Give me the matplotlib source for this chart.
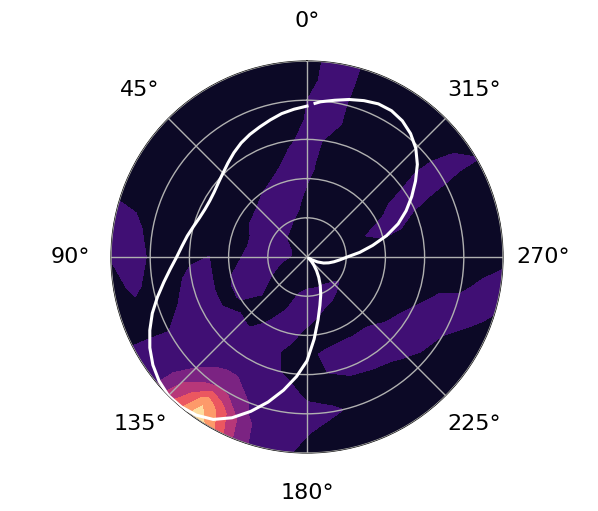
import numpy as np
import matplotlib
matplotlib.use('Agg')
import matplotlib.pyplot as plt

# contour field, one list per ring, sampled at THETA_DEG
THETA_DEG = [0, 10, 20, 30, 40, 50, 60, 70, 80, 90, 100, 110, 120, 130, 140, 145, 150,
             160, 170, 180, 190, 200, 210, 220, 230, 240, 250, 260, 270, 280, 290,
             295, 300, 305, 310, 320, 330, 340, 350]
RADII = [0.0, 0.1, 0.2, 0.3, 0.4, 0.45, 0.5, 0.6, 0.7, 0.8, 0.9, 1.0]

ring_00 = [.3] * 39
ring_10 = [.3, .3, .3, .35, .5, .75, 1.0, 1.15, 1.15, 1.15, .85, .6, .4, .3, .3, .3, .3,
           .3, .3, .3, .3, .3, .3, .3, .3, .3, .3, .3, .3, .3, .3,
           .3, .3, .3, .3, .3, .3, .3, .3]
ring_20 = [.55, .85, 1.0, 1.3, 1.5, 1.5, 1.5, 1.5, 1.5, 1.5, 1.5, 1.25, .9, .5, .3, .3, .4,
           .8, 1.15, 1.4, 1.4, 1.4, 1.4, 1.25, 1.05, .8, .6, .35, .3, .3, .3,
           .3, .3, .3, .3, .3, .3, .35, .4]
ring_30 = [.8, 1.2, 1.5, 1.5, 1.5, 1.35, 1.25, 1.05, 1.05, 1.15, 1.3, 1.5, 1.5, 1.0, .6, .6, .75,
           1.1, 1.4, 1.4, 1.05, .85, .7, .5, .4, .3, .3, .3, .35, .6, .95,
           .6, .45, .35, .3, .3, .3, .4, .6]
ring_40 = [1.1, 1.4, 1.4, 1.1, .85, .65, .6, .5, .5, .7, .9, 1.15, 1.15, .65, .6, .9, 1.1,
           1.4, 1.2, .7, .5, .45, .4, .35, .35, .3, .3, .3, .35, .85, 1.25,
           1.05, .75, .6, .45, .3, .3, .4, .6]
ring_45 = [1.25, 1.35, 1.05, .65, .45, .35, .3, .3, .3, .3, .4, .45, .55, 1.05, .9, 1.15, 1.3,
           1.35, .98, .6, .75, .85, .85, .85, .6, .45, .35, .3, .3, .7, 1.25,
           1.2, .95, .75, .55, .35, .3, .3, .7]
ring_50 = [1.3, 1.25, .7, .5, .4, .4, .4, .4, .45, 1.02, 1.1, 1.0, 1.0, 1.3, 1.25, 1.3, 1.3,
           1.2, .75, .8, 1.1, 1.3, 1.3, 1.25, .9, .65, .45, .4, .35, .6, 1.2,
           1.35, 1.25, .85, .6, .35, .3, .4, .75]
ring_60 = [1.3, .8, .5, .35, .3, .3, .3, .3, .5, .8, 1.25, 1.4, 1.4, 1.4, 1.4, 1.4, 1.4,
           1.25, .9, .75, 1.0, 1.3, 1.4, 1.4, 1.4, 1.2, .8, .5, .35, .35, .7,
           1.1, 1.35, 1.05, .7, .4, .3, .5, .9]
ring_70 = [1.05, .6, .4, .3, .3, .3, .3, .3, .35, .45, .7, 1.0, 1.3, 1.4, 1.75, 1.95, 1.95,
           1.5, 1.35, .85, .6, .6, .75, .95, 1.3, 1.4, 1.2, .75, .45, .35, .5,
           .9, 1.25, 1.2, .85, .45, .3, .7, 1.25]
ring_80 = [1.0, .55, .4, .3, .3, .3, .3, .45, .75, .9, .7, .5, 1.1, 1.5, 2.5, 2.9, 2.8,
           1.8, 1.3, 1.25, 1.15, .7, .45, .55, .75, 1.0, 1.35, .8, .4, .3, .35,
           .7, 1.2, 1.15, .85, .5, .3, .65, 1.3]
ring_90 = [.8, .45, .3, .3, .3, .3, .35, .75, 1.2, 1.4, 1.2, .55, 1.15, 1.8, 4.0, 5.7, 4.7,
           2.1, 1.5, 1.05, .5, .35, .3, .3, .3, .6, 1.2, 1.15, .6, .3, .3,
           .6, 1.05, 1.05, .6, .35, .3, .7, 1.35]
ring_100 = [.7, .4, .3, .3, .3, .3, .4, .85, 1.3, 1.05, .6, .65, 1.15, 2.0, 4.9, 6.8, 5.6,
            2.2, 1.4, .7, .4, .3, .3, .3, .3, .35, .85, 1.35, .8, .4, .35,
            .55, 1.03, .8, .5, .3, .3, .7, 1.4]

FIELD = [ring_00, ring_10, ring_20, ring_30, ring_40, ring_45, ring_50,
         ring_60, ring_70, ring_80, ring_90, ring_100]
LEVELS = [0, 1, 2, 3, 4, 5, 6, 7]

# white curve, read every 5 degrees
curve_theta = [0, 5, 10, 15, 20, 25, 30, 35, 40, 45, 50, 55, 60, 65, 70, 75, 80, 85, 90,
               95, 100, 105, 110, 115, 120, 125, 130, 135, 140, 145, 150, 155, 160, 165,
               170, 175, 180, 185, 190, 195, 200, 205, 210, 215, 220, 225, 230, 235, 240,
               245, 250, 255, 260, 265, 270, 275, 280, 285, 290, 295, 300, 305, 310, 315,
               320, 325, 330, 335, 340, 345, 350, 355, 357]
curve_r = [.770, .757, .743, .724, .706, .690, .672, .650, .627, .606, .590, .578, .573,
           .575, .584, .600, .620, .640, .665, .700, .742, .790, .840, .885, .926, .960,
           .985, 1.0, .998, .985, .957, .905, .838, .766, .690, .612, .530, .420, .325,
           .255, .205, .160, .120, .085, .055, .033, .015, .010, .030, .060, .090, .115,
           .140, .168, .205, .270, .340, .420, .495, .558, .617, .676, .735, .785, .822,
           .848, .862, .862, .849, .832, .812, .795, .785]

TICK_DEG = [0, 45, 90, 135, 180, 225, 270, 315]
TICK_LABELS = ['0°', '45°', '90°', '135°', '180°', '225°', '270°', '315°']
RINGS = [0.2, 0.4, 0.6, 0.8, 1.0]


def main():
    fig = plt.figure(figsize=(5.98, 5.11), dpi=100)
    ax = fig.add_axes([111 / 598, 58 / 511, 392 / 598, 392 / 511], projection='polar')
    ax.set_theta_zero_location('N')
    ax.set_theta_direction(1)

    # close the field at 360 degrees
    theta = np.radians(THETA_DEG + [360])
    field = np.array(FIELD)
    field = np.column_stack([field, field[:, 0]])
    ax.contourf(theta, RADII, field, levels=LEVELS, cmap='magma')

    ax.plot(np.radians(curve_theta), curve_r, color='white', lw=2.2, zorder=4)

    ax.set_rlim(0, 1)
    ax.set_rticks(RINGS)
    ax.set_yticklabels([])
    ax.set_thetagrids(TICK_DEG, TICK_LABELS)
    ax.tick_params(axis='x', labelsize=16, pad=18.5)
    ax.grid(True, color='#b0b0b0', lw=1.0)
    ax.set_axisbelow(False)

    fig.savefig('out.png', dpi=100)


if __name__ == '__main__':
    main()
